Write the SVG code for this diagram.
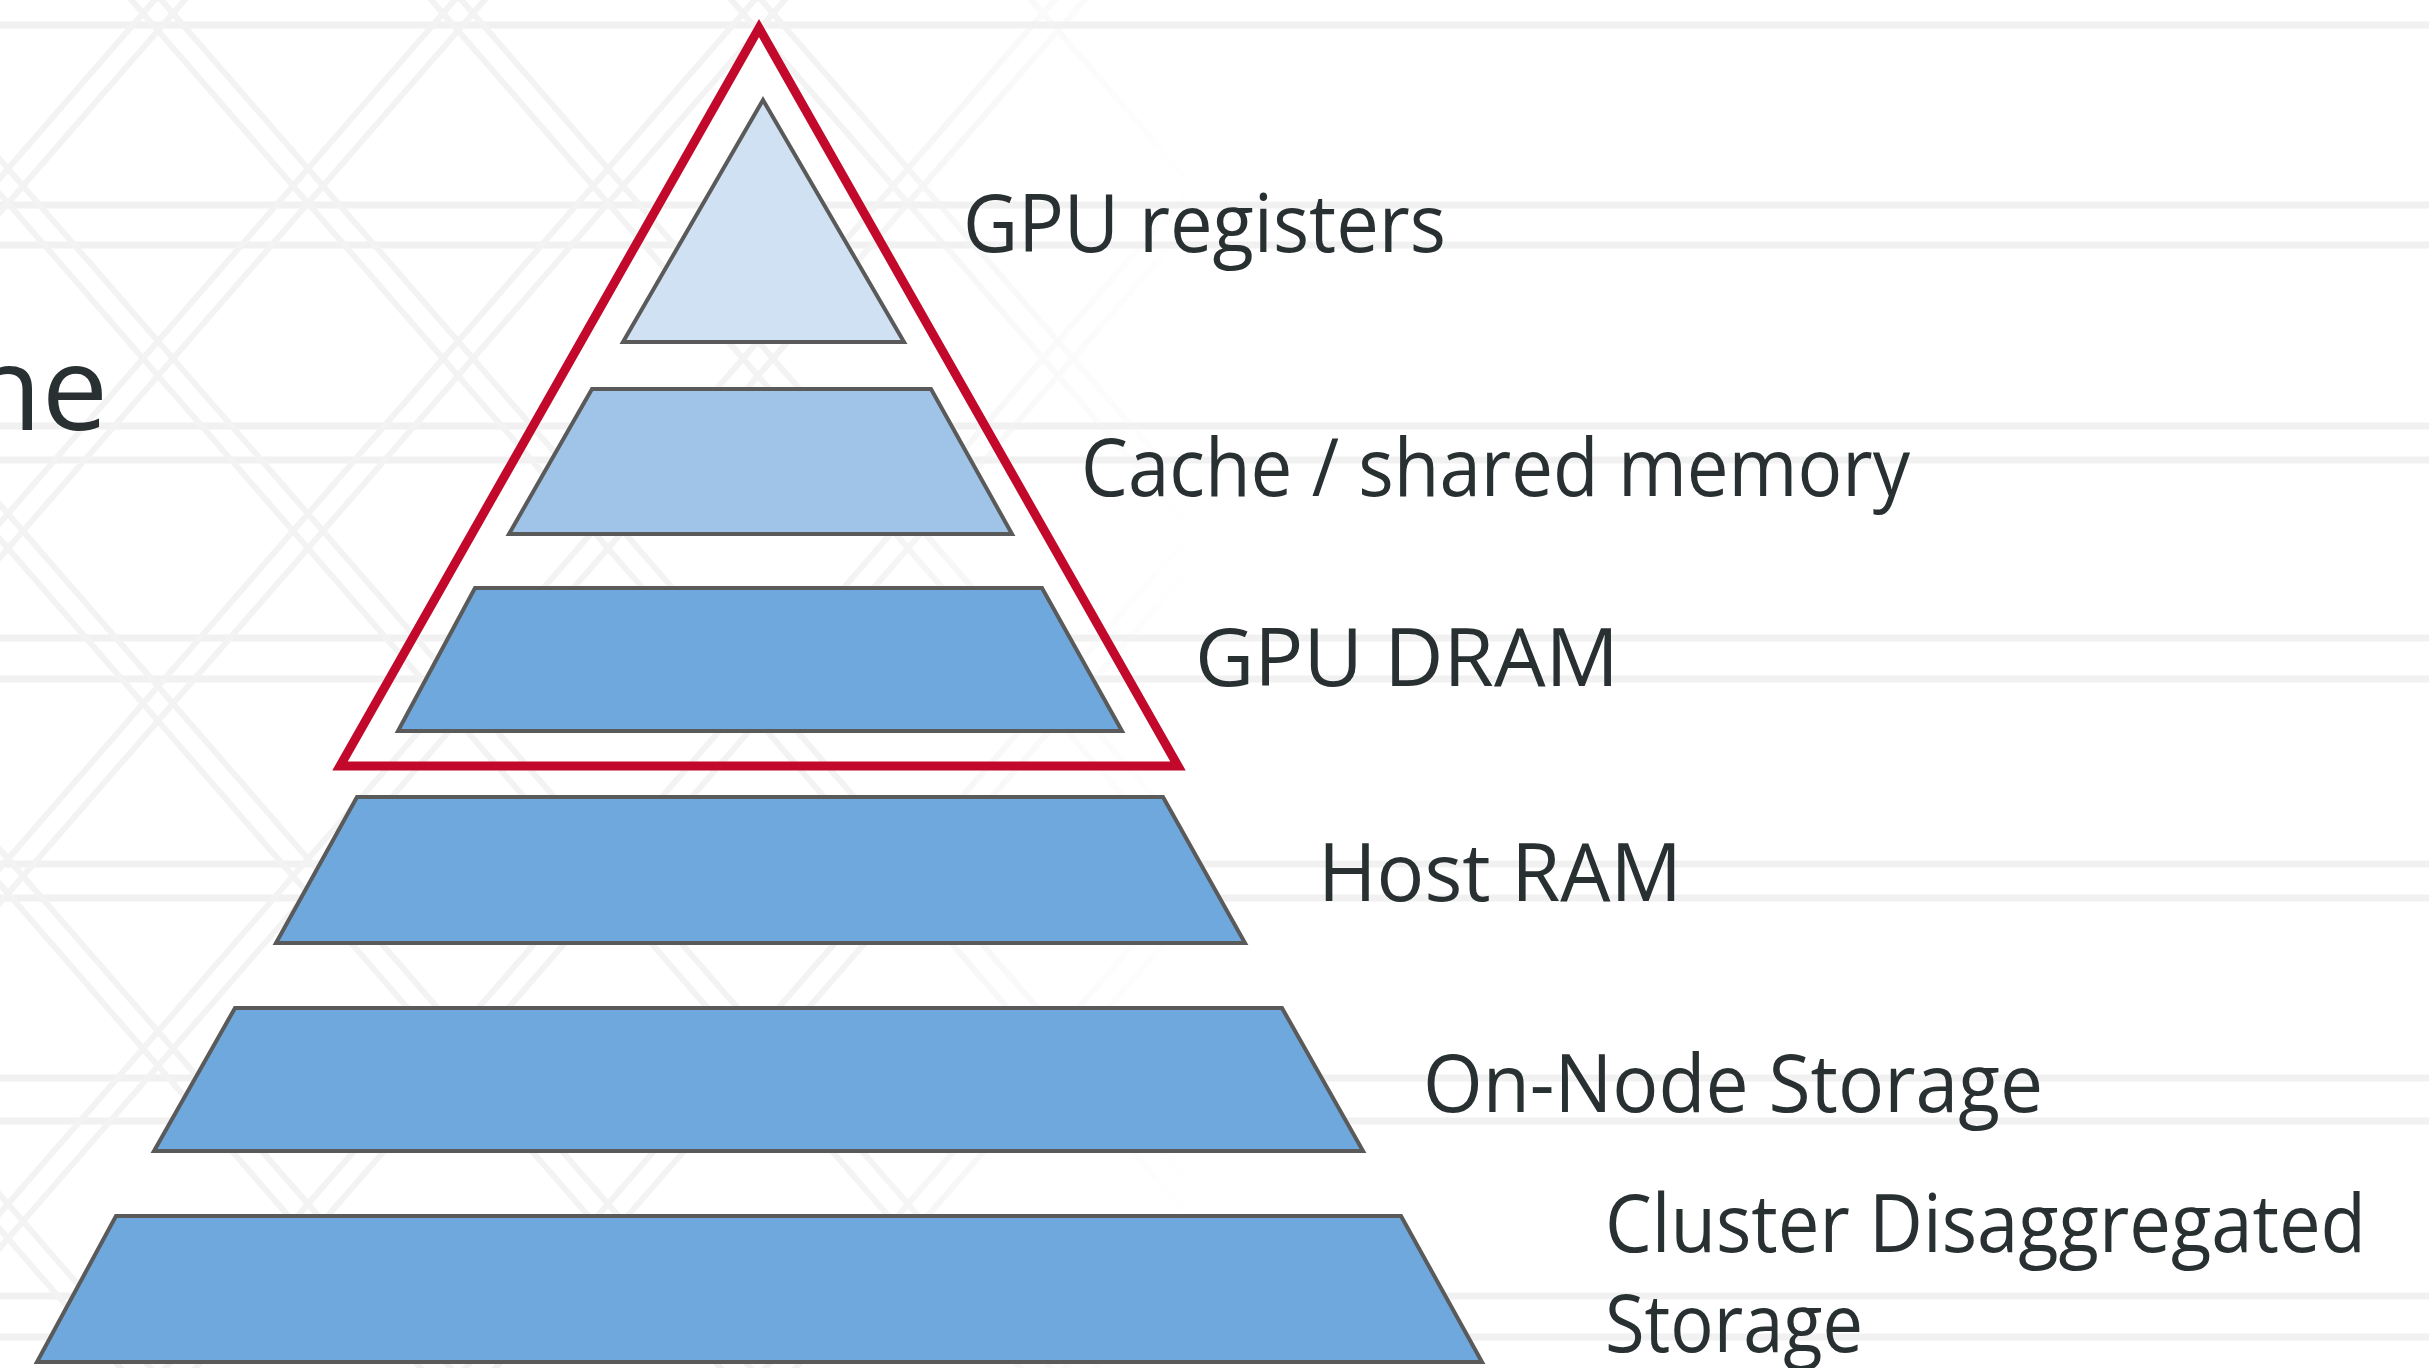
<svg xmlns="http://www.w3.org/2000/svg" width="2429" height="1368" viewBox="0 0 2429 1368">
  <defs>
    <style>
      .bg { stroke: #f1f1f1; stroke-width: 7; fill: none; }
      .lat { stroke: #f3f3f3; stroke-width: 6; fill: none; }
      .tier { stroke: #5a5a5a; stroke-width: 4; stroke-linejoin: miter; }
      .t1 { fill: #cfe1f3; }
      .t2 { fill: #9fc4e8; }
      .t3 { fill: #6fa8dc; }
      .lbl { font-family: "Open Sans", "Noto Sans", "Liberation Sans", sans-serif; font-size: 80px; font-weight: 500; fill: #293032; }
    </style>
    <linearGradient id="fadeGrad" gradientUnits="userSpaceOnUse" x1="0" y1="0" x2="1200" y2="0">
      <stop offset="0" stop-color="#fff"/>
      <stop offset="0.7" stop-color="#fff"/>
      <stop offset="1" stop-color="#000"/>
    </linearGradient>
    <mask id="latticeFade">
      <rect width="2429" height="1368" fill="url(#fadeGrad)"/>
    </mask>
  </defs>

  <rect width="2429" height="1368" fill="#ffffff"/>

  <!-- faint background lattice -->
  <g id="background">
    <g class="bg">
      <path d="M0 25H2429 M0 205H2429 M0 245H2429 M0 426H2429 M0 460H2429 M0 638H2429 M0 679H2429 M0 864H2429 M0 898H2429 M0 1078H2429 M0 1121H2429 M0 1296H2429 M0 1337H2429"/>
    </g>
    <g class="lat" mask="url(#latticeFade)">
      <path d="M-1086 -20L131 1380 M-1056 -20L161 1380 M-786 -20L431 1380 M-756 -20L461 1380 M-486 -20L731 1380 M-456 -20L761 1380 M-186 -20L1031 1380 M-156 -20L1061 1380 M114 -20L1331 1380 M144 -20L1361 1380 M414 -20L1631 1380 M444 -20L1661 1380 M714 -20L1931 1380 M744 -20L1961 1380 M1014 -20L2231 1380"/>
      <path d="M172 -20L-1045 1380 M202 -20L-1015 1380 M472 -20L-745 1380 M502 -20L-715 1380 M772 -20L-445 1380 M802 -20L-415 1380 M1072 -20L-145 1380 M1102 -20L-115 1380 M1372 -20L155 1380 M1402 -20L185 1380 M1672 -20L455 1380 M1702 -20L485 1380 M1972 -20L755 1380 M2002 -20L785 1380 M2272 -20L1055 1380 M2302 -20L1085 1380"/>
    </g>
  </g>

  <!-- fragment of slide text -->
  <text x="108" y="430" text-anchor="end" font-family="'Open Sans', 'Noto Sans', 'Liberation Sans', sans-serif" font-size="118" fill="#293032">he</text>

  <!-- pyramid tiers -->
  <g id="tier-gpu-registers">
    <polygon class="tier t1" points="763,100 904,342 623,342"/>
    <text class="lbl" x="963" y="252" textLength="483" lengthAdjust="spacingAndGlyphs">GPU registers</text>
  </g>
  <g id="tier-cache">
    <polygon class="tier t2" points="592,389 931,389 1012,534 509,534"/>
    <text class="lbl" x="1081" y="496" textLength="829" lengthAdjust="spacingAndGlyphs">Cache / shared memory</text>
  </g>
  <g id="tier-gpu-dram">
    <polygon class="tier t3" points="475,588 1042,588 1122,731 398,731"/>
    <text class="lbl" x="1195" y="686" textLength="424" lengthAdjust="spacingAndGlyphs">GPU DRAM</text>
  </g>
  <g id="tier-host-ram">
    <polygon class="tier t3" points="357,797 1163,797 1245,943 276,943"/>
    <text class="lbl" x="1318" y="901" textLength="364" lengthAdjust="spacingAndGlyphs">Host RAM</text>
  </g>
  <g id="tier-on-node">
    <polygon class="tier t3" points="235,1008 1282,1008 1363,1151 154,1151"/>
    <text class="lbl" x="1423" y="1112" textLength="620" lengthAdjust="spacingAndGlyphs">On-Node Storage</text>
  </g>
  <g id="tier-cluster">
    <polygon class="tier t3" points="116,1216 1401,1216 1482,1362 37,1362"/>
    <text class="lbl" x="1605" y="1252" textLength="761" lengthAdjust="spacingAndGlyphs">Cluster Disaggregated</text>
    <text class="lbl" x="1605" y="1352" textLength="258" lengthAdjust="spacingAndGlyphs">Storage</text>
  </g>

  <!-- red outline grouping the GPU tiers -->
  <g id="gpu-bracket">
    <polygon points="759,28 1178,766 340,766" fill="none" stroke="#c2092b" stroke-width="9" stroke-linejoin="miter"/>
  </g>
</svg>
